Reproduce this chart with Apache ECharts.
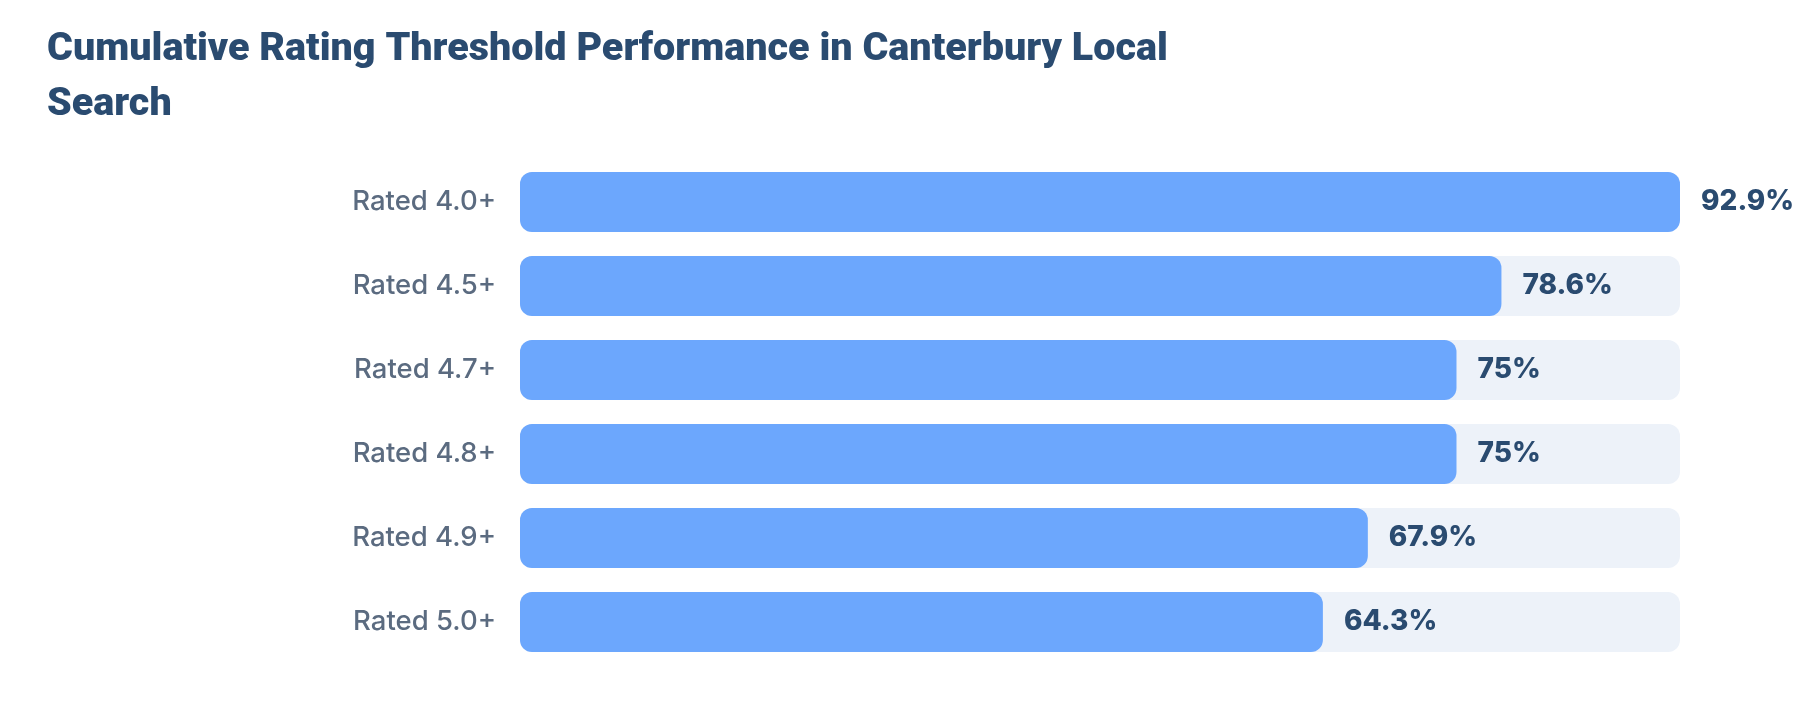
<!DOCTYPE html>
<html>
<head>
<meta charset="utf-8">
<script src="https://cdn.jsdelivr.net/npm/echarts@6/dist/echarts.min.js"></script>
<style>
  html, body { margin: 0; padding: 0; background: #ffffff; }
  #chart { width: 1800px; height: 708px; }
</style>
</head>
<body>
<div id="chart"></div>
<script>
// 数据
const categories = ['Rated 4.0+', 'Rated 4.5+', 'Rated 4.7+', 'Rated 4.8+', 'Rated 4.9+', 'Rated 5.0+']
const shares = [92.9, 78.6, 75, 75, 67.9, 64.3]

// 颜色
const COLORS = {
  title: '#2a4b70',
  axisText: '#5b6b80',
  value: '#2a4b70',
  bar: '#6ca7fd',
  track: '#edf2f9'
}

const chart = echarts.init(document.getElementById('chart'))

chart.setOption({
  animation: false,
  title: {
    text: 'Cumulative Rating Threshold Performance in Canterbury Local\nSearch',
    left: 42,
    top: 18,
    textStyle: {
      color: COLORS.title,
      fontFamily: 'Roboto',
      fontWeight: 900,
      fontSize: 39.5,
      lineHeight: 55
    }
  },
  grid: {
    left: 520,
    right: 120,
    top: 160,
    bottom: 44
  },
  xAxis: {
    type: 'value',
    min: 0,
    max: Math.max(...shares),
    show: false
  },
  yAxis: {
    type: 'category',
    data: categories,
    inverse: true,
    axisLine: { show: false },
    axisTick: { show: false },
    axisLabel: {
      color: COLORS.axisText,
      fontFamily: 'Inter',
      fontWeight: 500,
      fontSize: 27.5,
      margin: 24
    }
  },
  series: [
    {
      type: 'bar',
      data: shares,
      barWidth: 60,
      showBackground: true,
      backgroundStyle: {
        color: COLORS.track,
        borderRadius: 12
      },
      itemStyle: {
        color: COLORS.bar,
        borderRadius: 12
      },
      label: {
        show: true,
        position: 'right',
        distance: 21,
        color: COLORS.value,
        fontFamily: 'Inter',
        fontWeight: 800,
        fontSize: 28,
        formatter: p => p.value + '%'
      }
    }
  ]
})
</script>
</body>
</html>
